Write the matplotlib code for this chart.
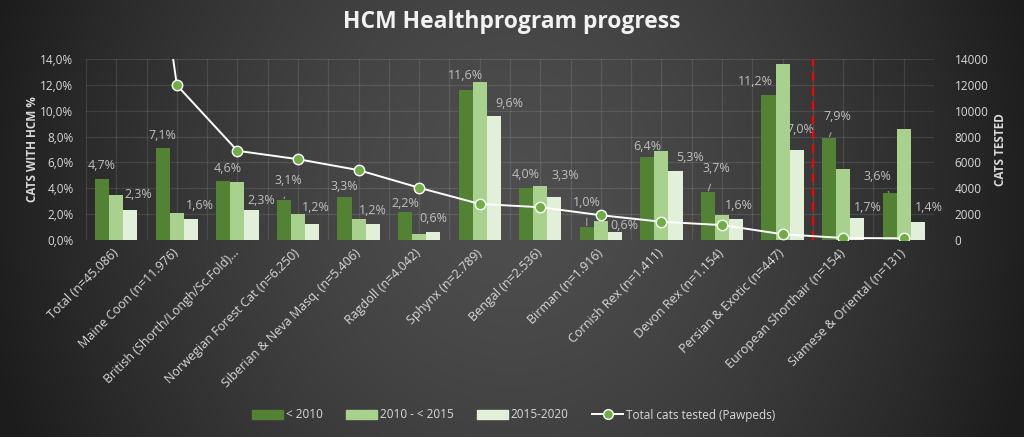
import numpy as np
import matplotlib
matplotlib.use("Agg")
import matplotlib.pyplot as plt
from matplotlib.lines import Line2D
from matplotlib.patches import Patch

# ---------------- data ----------------
categories = ["Total (n=45.086)", "Maine Coon (n=11.976)", "British (Shorth/Longh/Sc.Fold)...",
              "Norwegian Forest Cat (n=6.250)", "Siberian & Neva Masq. (n=5.406)", "Ragdoll (n=4.042)",
              "Sphynx (n=2.789)", "Bengal (n=2.536)", "Birman (n=1.916)", "Cornish Rex (n=1.411)",
              "Devon Rex (n=1.154)", "Persian & Exotic (n=447)", "European Shorthair (n=154)",
              "Siamese & Oriental (n=131)"]
pre2010 = [4.7, 7.1, 4.6, 3.1, 3.3, 2.2, 11.6, 4.0, 1.0, 6.4, 3.7, 11.2, 7.9, 3.6]
y2010_2015 = [3.5, 2.1, 4.5, 2.0, 1.6, 0.5, 12.2, 4.2, 1.5, 6.9, 1.9, 13.6, 5.5, 8.6]
y2015_2020 = [2.3, 1.6, 2.3, 1.2, 1.2, 0.6, 9.6, 3.3, 0.6, 5.3, 1.6, 7.0, 1.7, 1.4]
cats_tested = [45086, 11976, 6900, 6250, 5406, 4042, 2789, 2536, 1916, 1411, 1154, 447, 154, 131]
series_names = ["< 2010", "2010 - < 2015", "2015-2020", "Total cats tested (Pawpeds)"]
left_ticks = [0, 2, 4, 6, 8, 10, 12, 14]
right_ticks = [0, 2000, 4000, 6000, 8000, 10000, 12000, 14000]

# ---------------- style / layout ----------------
FONT = ["Open Sans", "DejaVu Sans"]
plt.rcParams["font.family"] = FONT
C_DARK, C_MID, C_LIGHT = "#548235", "#a9d18e", "#e2f0d9"
TXT = "#d9d9d9"
LBL = "#bfbfbf"
W, H = 1024, 437
fig = plt.figure(figsize=(W / 100, H / 100), dpi=100)

# background radial gradient
bg = fig.add_axes([0, 0, 1, 1], zorder=-10)
yy, xx = np.mgrid[0:1:H * 1j, 0:1:W * 1j]
r = np.sqrt(((xx - 0.5) / 0.5) ** 2 + ((yy - 0.45) / 1.3) ** 2)
v = np.clip(78 - 46 * r ** 1.5, 28, 80) / 255.0
bg.imshow(np.dstack([v, v, v]), extent=[0, 1, 0, 1], aspect="auto", origin="upper")
bg.axis("off")

left, right, top, bottom = 86, 934, 59, 240
ax = fig.add_axes([left / W, 1 - bottom / H, (right - left) / W, (bottom - top) / H])
ax.patch.set_alpha(0)
n = len(categories)
x = np.arange(n)
bw = 0.233

ax.set_xlim(-0.5, n - 0.5)
ax.set_ylim(0, 14)
grid_c = (1, 1, 1, 0.10)
for yv in left_ticks:
    ax.axhline(yv, color=grid_c, lw=0.9, zorder=0)
for xv in np.arange(-0.5, n - 0.5 + 0.01, 0.5):
    ax.axvline(xv, color=grid_c, lw=0.9, zorder=0)

b1 = ax.bar(x - bw, pre2010, bw, color=C_DARK, zorder=2)
b2 = ax.bar(x, y2010_2015, bw, color=C_MID, zorder=2)
b3 = ax.bar(x + bw, y2015_2020, bw, color=C_LIGHT, zorder=2)

for s in ax.spines.values():
    s.set_visible(False)
ax.set_yticks(left_ticks)
ax.set_yticklabels([f"{t:.1f}%".replace(".", ",") for t in left_ticks])
ax.tick_params(axis="y", length=0, pad=9, labelsize=8.5, labelcolor=TXT)
ax.set_xticks(x)
ax.set_xticklabels(categories, rotation=45, ha="right", rotation_mode="anchor", va="center")
ax.tick_params(axis="x", length=0, pad=8, labelsize=9, labelcolor=TXT)
ax.set_ylabel("CATS WITH HCM %", fontsize=8.5, fontweight="bold", color=TXT, labelpad=1)

# data labels (offsets in pixels relative to bar top), leader flags
dark_off = [(0, 14), (0, 13), (4, 12), (4, 19), (0, 11), (0, 8), (0, 15), (0, 14), (0, 25),
            (0, 11), (8, 24), (-13, 14), (8, 21), (-12, 17)]
dark_lead = [False, False, False, True, False, False, False, False, True,
             False, True, False, True, True]
light_off = [(8, 16), (9, 14), (10, 10), (4, 17), (0, 14), (0, 14), (16, 12), (11, 22), (9, 7),
             (15, 14), (3, 14), (4, 20), (11, 11), (11, 14)]


def fmt(v):
    return f"{v:.1f}%".replace(".", ",")


for i in range(n):
    dx, dy = dark_off[i]
    kw = {}
    if dark_lead[i]:
        kw["arrowprops"] = dict(arrowstyle="-", color="#a6a6a6", lw=0.8, shrinkA=5, shrinkB=1)
    ax.annotate(fmt(pre2010[i]), xy=(x[i] - bw, pre2010[i]), xytext=(dx, dy),
                textcoords="offset pixels", ha="center", va="center", fontsize=9,
                color=LBL, zorder=5, **kw)
    dx, dy = light_off[i]
    ax.annotate(fmt(y2015_2020[i]), xy=(x[i] + bw, y2015_2020[i]), xytext=(dx, dy),
                textcoords="offset pixels", ha="center", va="center", fontsize=9,
                color=LBL, zorder=5)

# secondary axis
ax2 = ax.twinx()
ax2.set_ylim(0, 14000)
ax2.set_yticks(right_ticks)
ax2.set_yticklabels([str(t) for t in right_ticks])
ax2.tick_params(axis="y", length=0, pad=15, labelsize=8.5, labelcolor=TXT)
for s in ax2.spines.values():
    s.set_visible(False)
ax2.set_ylabel("CATS TESTED", fontsize=8.5, fontweight="bold", color=TXT, labelpad=4)
ax2.axvline(11.5, color="#ff0000", lw=1.6, ls=(0, (4, 2.5)), zorder=3)
ax2.plot(x, cats_tested, color="white", lw=1.4, marker="o", markersize=7.5,
         markerfacecolor="#70ad47", markeredgecolor="white", markeredgewidth=1.0, zorder=4)

fig.text(0.5, 1 - 22 / H, "HCM Healthprogram progress", ha="center", va="center",
         fontsize=16.5, fontweight="bold", color="#f2f2f2")

handles = [Patch(color=C_DARK), Patch(color=C_MID), Patch(color=C_LIGHT),
           Line2D([0], [0], color="white", lw=1.4, marker="o", markersize=7,
                  markerfacecolor="#70ad47", markeredgecolor="white")]
leg = fig.legend(handles, series_names, loc="center", bbox_to_anchor=(0.5015, 22 / H), ncol=4,
                 frameon=False, fontsize=8.5, handlelength=2.6, handleheight=0.75,
                 handletextpad=0.25, columnspacing=2.0)
for t in leg.get_texts():
    t.set_color(TXT)

fig.savefig("out.png", dpi=100)
